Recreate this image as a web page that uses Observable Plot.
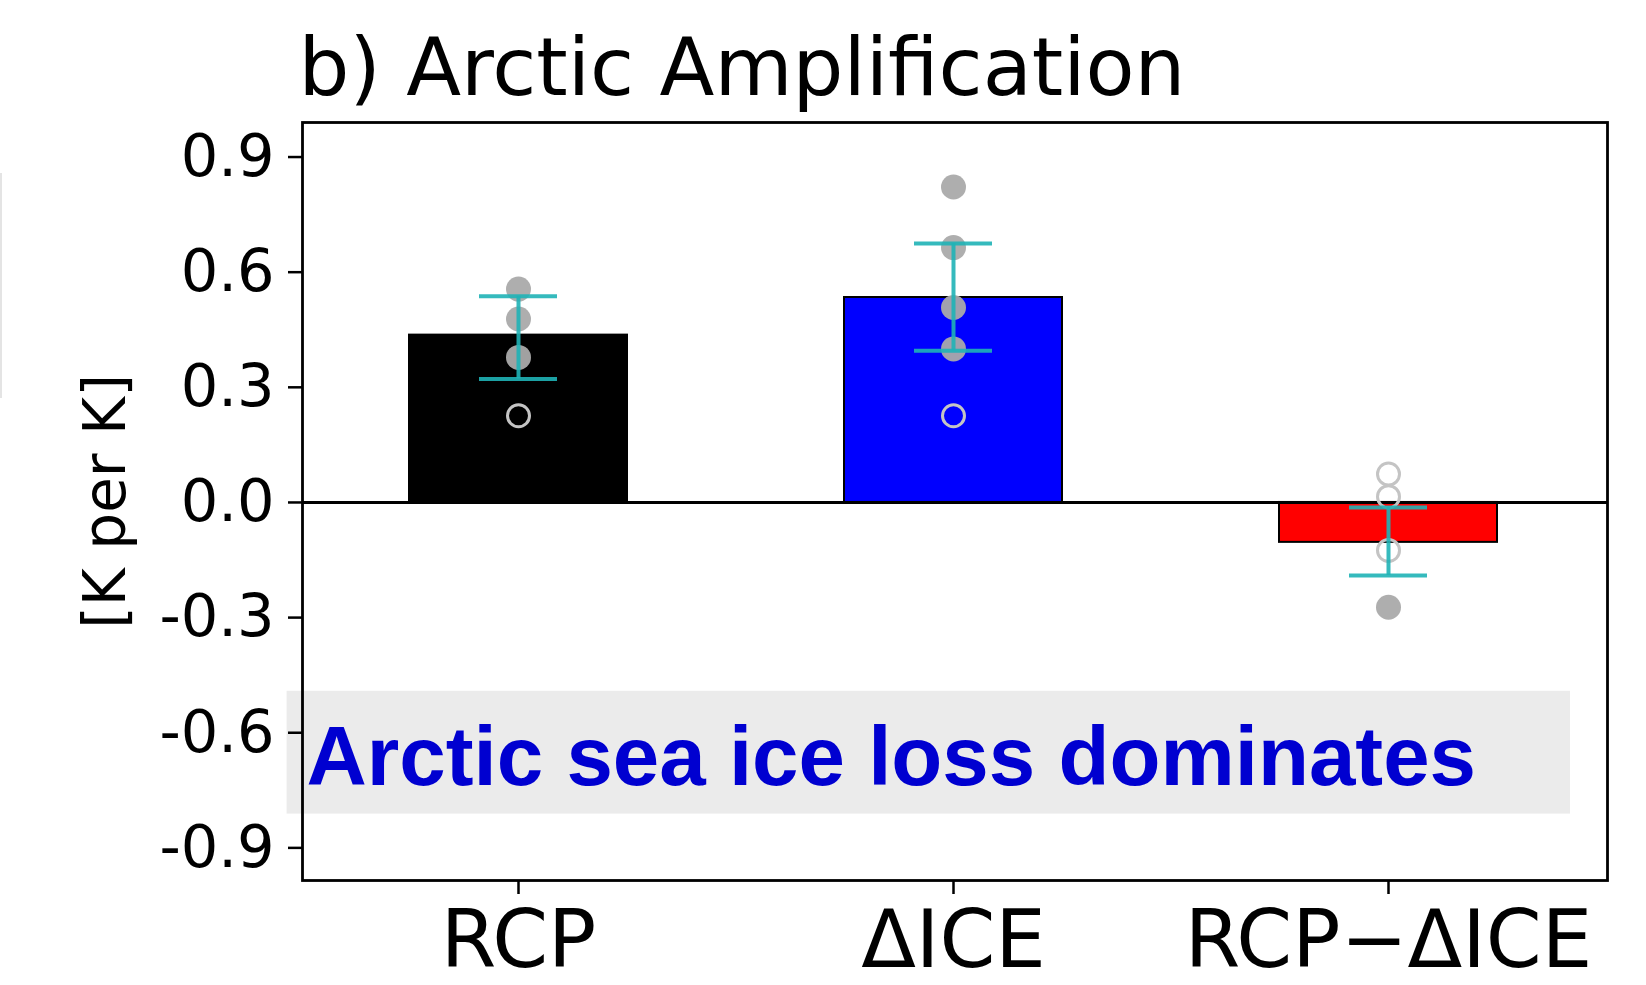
<!DOCTYPE html>
<html><head><meta charset="utf-8">
<script src="https://cdn.jsdelivr.net/npm/d3@7"></script>
<script src="https://cdn.jsdelivr.net/npm/@observablehq/plot@0.6"></script>
<style>
body{margin:0;background:#fff;}
#wrap{position:relative;width:1646px;height:985px;overflow:hidden;}
#edge{position:absolute;left:0;top:173px;width:2px;height:225px;background:#e4e4e4;}
</style>
</head><body><div id="wrap"><div id="edge"></div></div>
<script>
const categories = ["RCP", "ΔICE", "RCP−ΔICE"];
const barValues = [0.436, 0.534, -0.104];
const barColors = ["#000000", "#0000ff", "#ff0000"];
const errLow = [0.322, 0.395, -0.190];
const errHigh = [0.537, 0.675, -0.013];
const filledCat = ["RCP", "RCP", "RCP", "ΔICE", "ΔICE", "ΔICE", "ΔICE", "RCP−ΔICE"];
const filledVal = [0.556, 0.478, 0.378, 0.822, 0.664, 0.508, 0.400, -0.273];
const openCat = ["RCP", "ΔICE", "RCP−ΔICE", "RCP−ΔICE", "RCP−ΔICE"];
const openVal = [0.226, 0.226, 0.074, 0.015, -0.125];
const yTicks = [-0.9, -0.6, -0.3, 0, 0.3, 0.6, 0.9];
const title = "b) Arctic Amplification";
const yLabel = "[K per K]";
const note = "Arctic sea ice loss dominates";

const bars = categories.map((c, i) => ({cat: c, val: barValues[i], color: barColors[i]}));
const errs = categories.map((c, i) => ({cat: c, lo: errLow[i], hi: errHigh[i]}));
const filled = filledCat.map((c, i) => ({cat: c, val: filledVal[i]}));
const open = openCat.map((c, i) => ({cat: c, val: openVal[i]}));

const errColor = "#1fb3b6";
const font = "'DejaVu Sans', sans-serif";

const chart = Plot.plot({
  width: 1646, height: 985,
  marginLeft: 302, marginRight: 39, marginTop: 122, marginBottom: 105,
  style: {fontFamily: font, background: "white", color: "black", overflow: "visible"},
  x: {domain: categories, paddingInner: 0.5, paddingOuter: 0.25, align: 0.49},
  y: {domain: [-0.985, 0.99]},
  marks: [
    Plot.rect([note], {y1: -0.812, y2: -0.492, insetLeft: -15.4, insetRight: 37, fill: "#ebebeb"}),
    Plot.barY(bars, {x: "cat", y: "val", fill: "color", stroke: "black", strokeWidth: 2}),
    Plot.ruleY([0], {stroke: "black", strokeWidth: 3}),
    Plot.dot(open, {x: "cat", y: "val", r: 11, stroke: "#c4c4c4", strokeWidth: 3, fill: "none"}),
    Plot.dot(filled, {x: "cat", y: "val", r: 12.5, fill: "#aaaaaa", fillOpacity: 0.95}),
    Plot.ruleX(errs, {x: "cat", y1: "lo", y2: "hi", stroke: errColor, strokeWidth: 4, strokeOpacity: 0.9}),
    Plot.tickY(errs, {x: "cat", y: "lo", insetLeft: 70, insetRight: 70, stroke: errColor, strokeWidth: 4, strokeOpacity: 0.9}),
    Plot.tickY(errs, {x: "cat", y: "hi", insetLeft: 70, insetRight: 70, stroke: errColor, strokeWidth: 4, strokeOpacity: 0.9}),
    Plot.text([note], {frameAnchor: "left", y: -0.735, dx: 4, lineAnchor: "bottom", textAnchor: "start",
      fontFamily: "'Liberation Sans', Arial, sans-serif", fontWeight: "bold", fontSize: 83.5, fill: "#0000d0"}),
    Plot.frame({stroke: "black", strokeWidth: 2.8}),
    Plot.axisY({ticks: yTicks, tickFormat: d => d.toFixed(1), tickSize: 14, tickPadding: 14,
      fontSize: 59, label: null, strokeWidth: 2.5}),
    Plot.axisX({tickSize: 14, tickPadding: 16, fontSize: 80, label: null, strokeWidth: 2.5}),
    Plot.text([yLabel], {frameAnchor: "left", rotate: -90, dx: -178, lineAnchor: "bottom",
      textAnchor: "middle", fontSize: 58}),
    Plot.text([title], {frameAnchor: "top-left", dx: -4, dy: -27.5, lineAnchor: "bottom",
      textAnchor: "start", fontSize: 80.2})
  ]
});
document.getElementById("wrap").appendChild(chart);
</script>
</body></html>
